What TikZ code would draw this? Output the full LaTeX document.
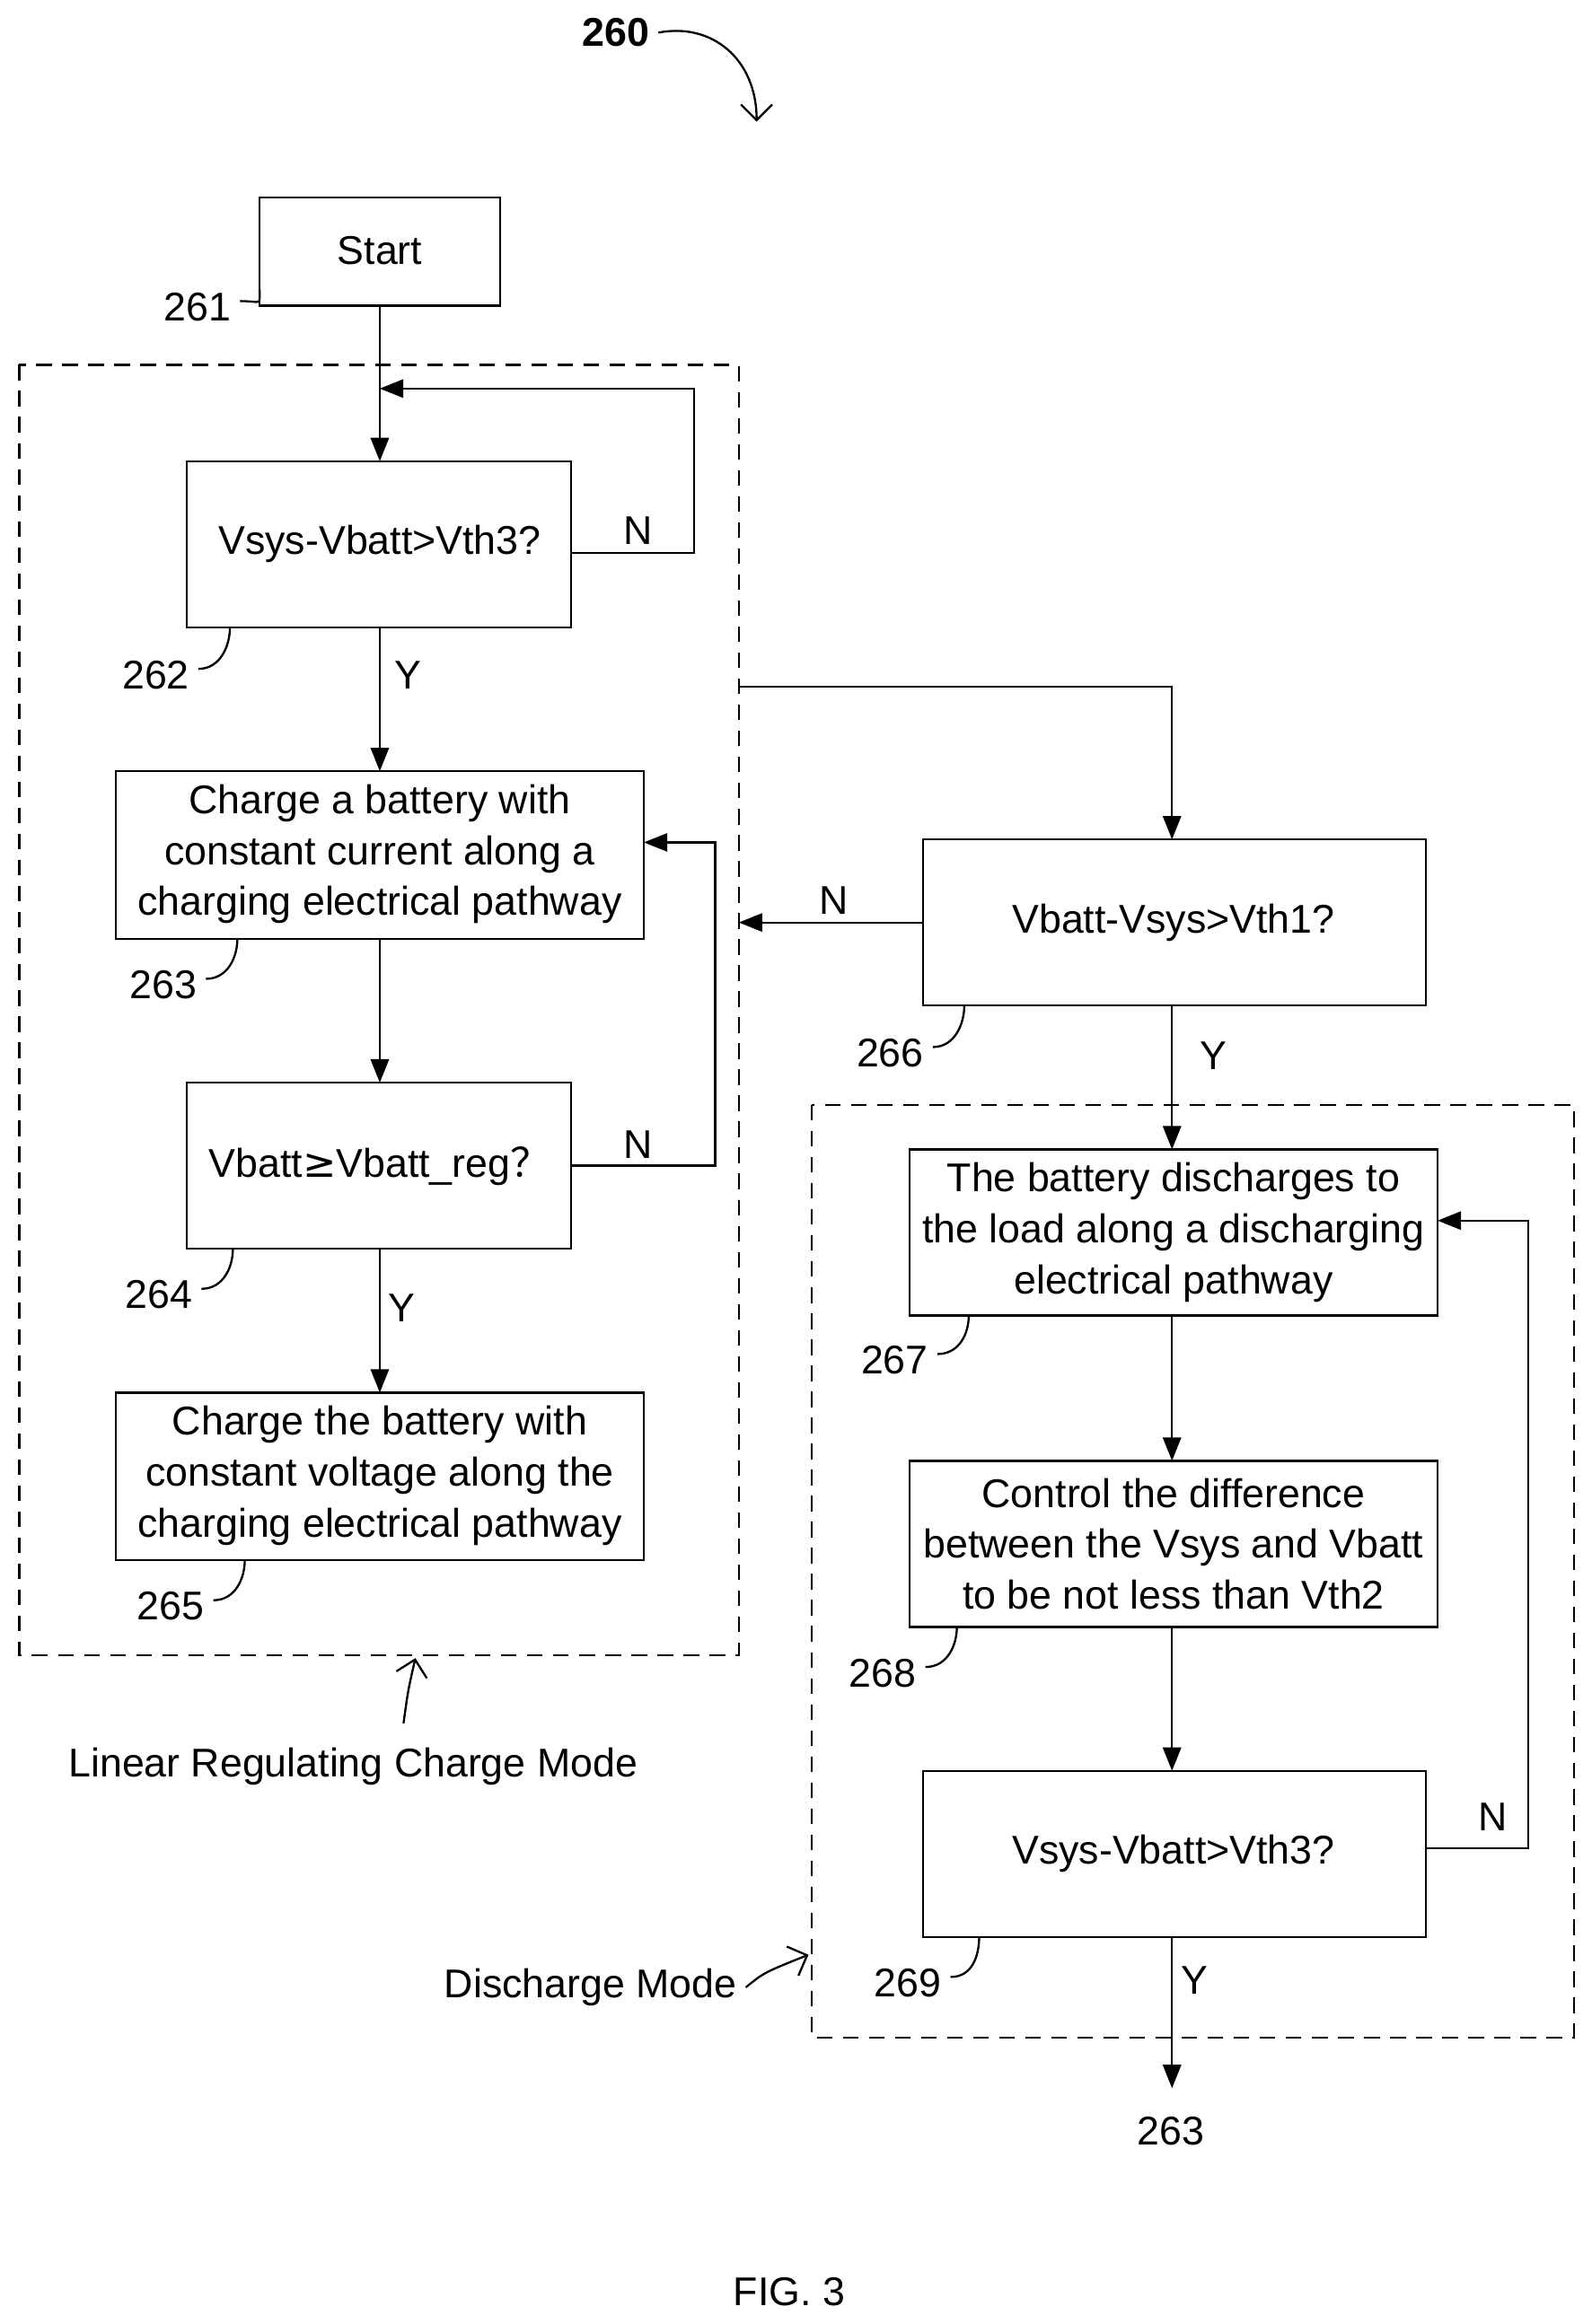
\documentclass[tikz,border=0pt]{standalone}
\usepackage{fontspec}
\setmainfont{Liberation Sans}
\newfontfamily\dvs{DejaVu Sans}
\newfontfamily\cjk{Noto Sans CJK SC}
\usetikzlibrary{arrows.meta}
\begin{document}
\begin{tikzpicture}[x=0.02cm,y=-0.02cm,
  lbl/.style={font=\fontsize{15.4}{19.5}\selectfont},
  dashbox/.style={draw,thick,dash pattern=on 6pt off 4pt},
  arr/.style={thick,-{Triangle[length=9pt,width=7pt]}},
  ln/.style={thick}]
\useasboundingbox (0,0) rectangle (1073,1567);
\node[font=\bfseries\fontsize{15.4}{16}\selectfont] (t260) at (415,22) {260};
\draw[thick,-{Straight Barb[length=6pt]}] (t260.east) .. controls (480,15) and (510,40) .. (510,82);
\draw[thick] (175,133) rectangle (337,206); \node[lbl] (start) at (256,169) {Start};
\draw[dashbox] (13,246) rectangle (498,1116);
\draw[dashbox] (547,745) rectangle (1061,1374);
\draw[thick] (126,311) rectangle (385,423); \node[lbl] (b262) at (256,367) {Vsys-Vbatt>Vth3?};
\draw[thick] (78,520) rectangle (434,633); \node[lbl,align=center] (b263) at (256,576) {Charge a battery with\\constant current along a\\charging electrical pathway};
\draw[thick] (126,730) rectangle (385,842); \node[lbl] (b264) at (256,786) {Vbatt{\dvs ≥}Vbatt\_reg{\cjk ？}};
\draw[thick] (78,939) rectangle (434,1052); \node[lbl,align=center] (b265) at (256,995) {Charge the battery with\\constant voltage along the\\charging electrical pathway};
\draw[thick] (622,566) rectangle (961,678); \node[lbl] (b266) at (791,622) {Vbatt-Vsys>Vth1?};
\draw[thick] (613,775) rectangle (969,887); \node[lbl,align=center] (b267) at (791,831) {The battery discharges to\\the load along a discharging\\electrical pathway};
\draw[thick] (613,985) rectangle (969,1097); \node[lbl,align=center] (b268) at (791,1041) {Control the difference\\between the Vsys and Vbatt\\to be not less than Vth2};
\draw[thick] (622,1194) rectangle (961,1306); \node[lbl] (b269) at (791,1250) {Vsys-Vbatt>Vth3?};
\draw[arr] (256,206) -- (256,311);
\draw[arr] (385,373) -- (468,373) -- (468,262) -- (256,262);
\node[lbl] at (430,358) {N};
\draw[arr] (256,423) -- (256,520); \node[lbl] at (275,455) {Y};
\draw[arr] (256,633) -- (256,730);
\draw[arr] (385,786) -- (482,786) -- (482,568) -- (434,568); \node[lbl] at (430,772) {N};
\draw[arr] (256,842) -- (256,939); \node[lbl] at (271,882) {Y};
\draw[arr] (498,463) -- (790,463) -- (790,566);
\draw[arr] (622,622) -- (498,622); \node[lbl] at (562,607) {N};
\draw[arr] (790,678) -- (790,775); \node[lbl] at (818,712) {Y};
\draw[arr] (790,887) -- (790,985);
\draw[arr] (790,1097) -- (790,1194);
\draw[arr] (961,1246) -- (1030,1246) -- (1030,823) -- (969,823); \node[lbl] at (1006,1225) {N};
\draw[arr] (790,1306) -- (790,1408); \node[lbl] at (805,1335) {Y};
\node[lbl] (n263) at (789,1437) {263};
\foreach \t/\x/\y/\cx/\cy in {261/133/207/175/195, 262/105/455/155/423, 263/110/664/160/633, 264/107/873/157/842, 265/115/1083/165/1052, 266/600/710/650/678, 267/603/917/653/887, 268/595/1128/645/1097, 269/612/1337/660/1306}{
  \node[lbl] (l\t) at (\x,\y) {\t};
  \draw[ln] (l\t.east) ++(0,-4) .. controls +(15,0) and +(0,12) .. (\cx,\cy);
}
\node[lbl] (lrcm) at (238,1191) {Linear Regulating Charge Mode};
\draw[thick,-{Straight Barb[length=6pt]}] (272,1162) .. controls (275,1140) .. (280,1118);
\node[lbl] (dm) at (398,1340) {Discharge Mode};
\draw[thick,-{Straight Barb[length=6pt]}] (dm.east) .. controls (515,1330) .. (545,1318);
\node[lbl] (fig) at (532,1545) {FIG. 3};
\end{tikzpicture}
\end{document}
